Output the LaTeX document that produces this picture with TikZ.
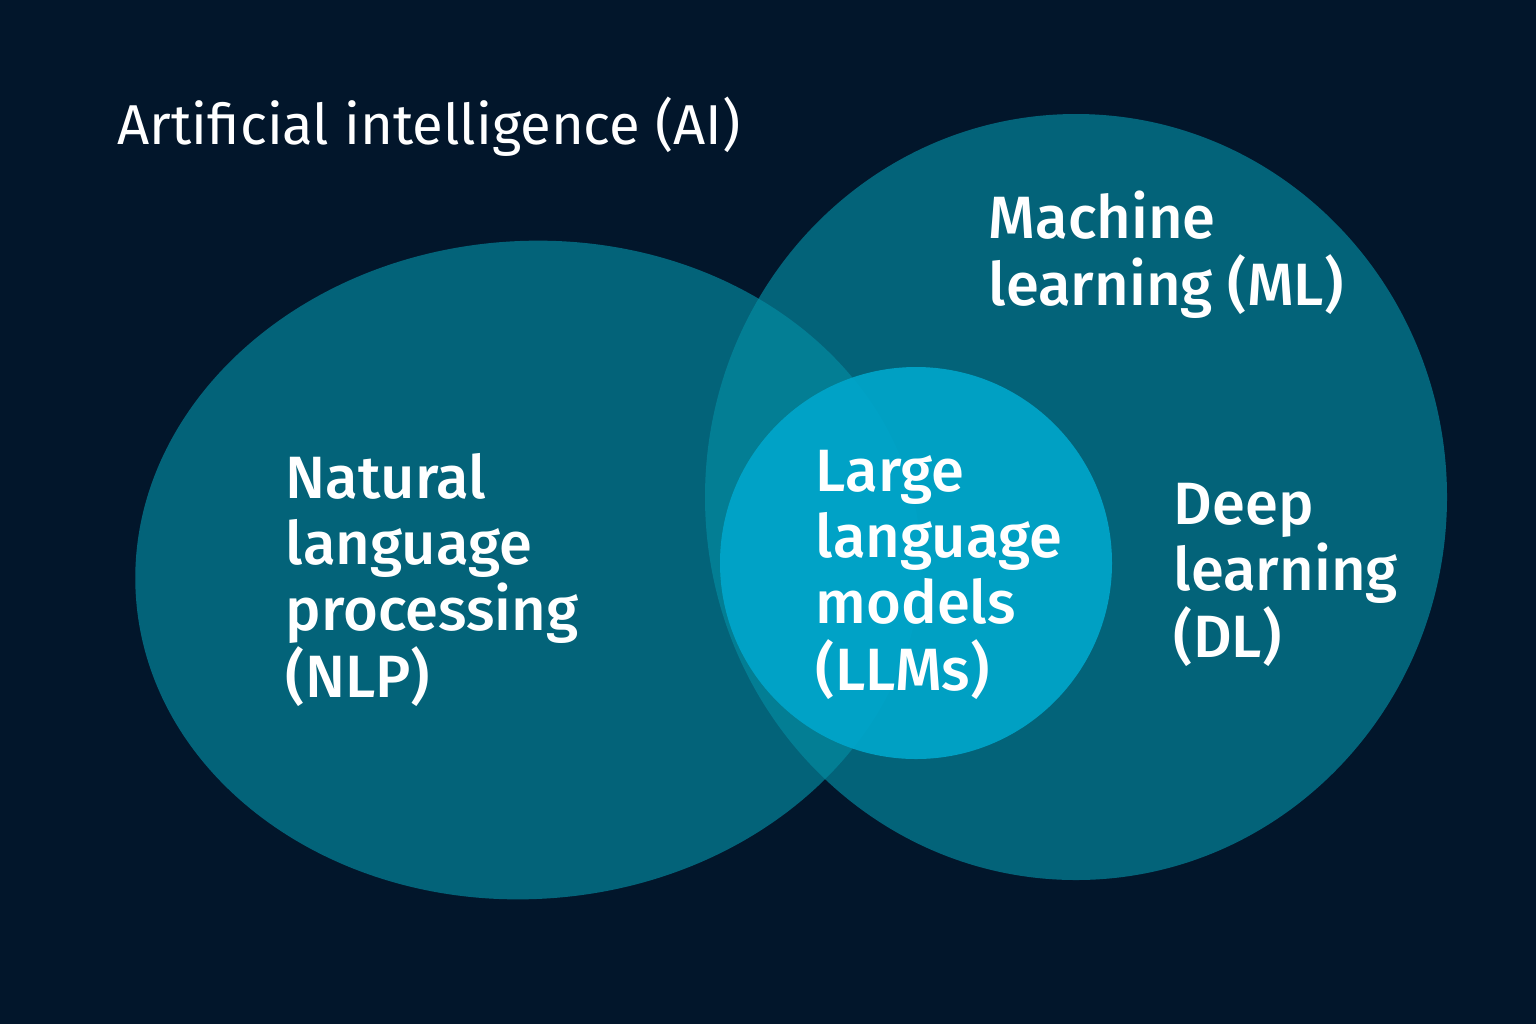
\documentclass[tikz,border=0pt]{standalone}
\usepackage{fontspec}
\setmainfont{Fira Sans}
\newfontfamily\titlefont{Fira Sans}
\newfontfamily\labelfont{Fira Sans Medium}
\definecolor{navy}{RGB}{2,22,43}
\definecolor{teal1}{RGB}{4,141,164}
\definecolor{cyan1}{RGB}{0,167,204}

\begin{document}
\begin{tikzpicture}

\tikzstyle{set1}=[fill=teal1, fill opacity=0.65]
\tikzstyle{set2}=[fill=cyan1, fill opacity=0.9]
\tikzstyle{label1}=[anchor=base west, inner sep=0, text=white, align=left, font=\labelfont\fontsize{17}{18.8}\selectfont]

\fill [navy] (0,0) rectangle (15.36,-10.24);

\fill [set1, rotate around={4:(5.28,-5.70)}] (5.28,-5.70) ellipse (3.93cm and 3.29cm);
\fill [set1] (10.76,-4.97) ellipse (3.71cm and 3.83cm);
\fill [set2] (9.16,-5.63) circle (1.96cm);

\node (AI) [anchor=base west, inner sep=0, text=white, font=\titlefont\fontsize{16}{19}\selectfont] at (1.17,-1.44) {Artificial intelligence (AI)};

% base anchor = last line
\node (ML) [label1] at (9.88,-3.05) {Machine\\learning (ML)};
\node (NLP) [label1] at (2.85,-6.97) {Natural\\language\\processing\\(NLP)};
\node (LLM) [label1] at (8.15,-6.90) {Large\\language\\models\\(LLMs)};
\node (DL) [label1] at (11.73,-6.57) {Deep\\learning\\(DL)};

\end{tikzpicture}
\end{document}
